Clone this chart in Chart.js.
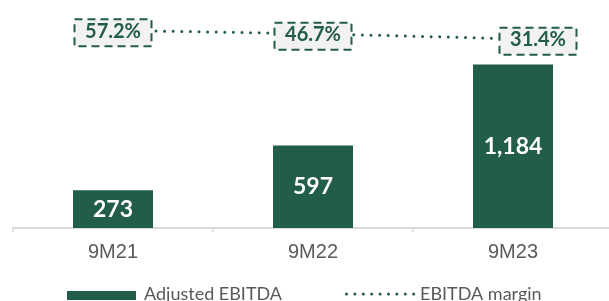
<!DOCTYPE html>
<html>
<head>
<meta charset="utf-8">
<script src="https://cdn.jsdelivr.net/npm/chart.js@4/dist/chart.umd.min.js"></script>
<style>
  html, body { margin: 0; padding: 0; background: #fff; overflow: hidden; width: 609px; height: 301px; }
  #wrap { position: relative; width: 613px; height: 301px; }
</style>
</head>
<body>
<div id="wrap"><canvas id="chart"></canvas></div>
<script>
var periods = ["9M21", "9M22", "9M23"];
var adjustedEbitda = [273, 597, 1184];
var ebitdaMargin = [57.2, 46.7, 31.4];
var seriesNames = ["Adjusted EBITDA", "EBITDA margin"];

var green = "#225c4b";
var grey = "#595959";

var labelsPlugin = {
  id: "valueLabels",
  afterDatasetsDraw: function (chart) {
    var ctx = chart.ctx;
    ctx.save();
    // bar values, centred in the bars
    chart.getDatasetMeta(1).data.forEach(function (bar, i) {
      ctx.fillStyle = "#fff";
      ctx.font = "bold 23px Lato";
      ctx.textAlign = "center";
      ctx.textBaseline = "middle";
      ctx.fillText(adjustedEbitda[i].toLocaleString("en-US"), bar.x, (bar.y + bar.base) / 2);
    });
    // margin labels in dashed boxes
    var shift = [0, 0, 25];
    chart.getDatasetMeta(0).data.forEach(function (pt, i) {
      var cx = pt.x + shift[i];
      var ty = pt.y;
      ctx.setLineDash([8, 5]);
      ctx.lineWidth = 2;
      ctx.strokeStyle = green;
      ctx.fillStyle = "#f2f2f2";
      ctx.fillRect(cx - 38.5, ty - 11, 77, 27);
      ctx.strokeRect(cx - 38.5, ty - 11, 77, 27);
      ctx.setLineDash([]);
      ctx.fillStyle = green;
      ctx.font = "bold 20px Lato";
      ctx.textAlign = "center";
      ctx.textBaseline = "middle";
      ctx.fillText(ebitdaMargin[i].toFixed(1) + "%", cx, ty + 1);
    });
    ctx.restore();
  }
};

// legend drawn by hand under the axis
var legendPlugin = {
  id: "bottomLegend",
  afterDraw: function (chart) {
    var ctx = chart.ctx;
    var y = 294;
    var x = 67;
    ctx.save();
    ctx.font = "18px Lato";
    ctx.textBaseline = "middle";
    ctx.textAlign = "left";
    ctx.fillStyle = green;
    ctx.fillRect(x, y - 3, 69, 9);
    x += 69 + 8;
    ctx.fillStyle = grey;
    ctx.fillText(seriesNames[0], x, y);
    x = 345;
    ctx.fillStyle = green;
    for (var d = 0; d < 9; d++) {
      ctx.beginPath();
      ctx.arc(x + 1.5 + d * 8.4, y, 1.5, 0, Math.PI * 2);
      ctx.fill();
    }
    x += 68 + 7;
    ctx.fillStyle = grey;
    ctx.fillText(seriesNames[1], x, y);
    ctx.restore();
  }
};

new Chart(document.getElementById("chart"), {
  data: {
    labels: periods,
    datasets: [
      {
        type: "line",
        label: seriesNames[1],
        data: ebitdaMargin,
        yAxisID: "y1",
        borderColor: green,
        borderWidth: 3,
        borderDash: [0, 8.6],
        borderCapStyle: "round",
        pointRadius: 0,
        order: 0
      },
      {
        type: "bar",
        label: seriesNames[0],
        data: adjustedEbitda,
        yAxisID: "y",
        backgroundColor: green,
        barPercentage: 0.4,
        categoryPercentage: 1,
        order: 1
      }
    ]
  },
  options: {
    responsive: true,
    maintainAspectRatio: false,
    animation: false,
    layout: { padding: { top: 7, left: 13, right: 0, bottom: 29 } },
    scales: {
      x: {
        offset: true,
        grid: { drawOnChartArea: false, color: "#d9d9d9", lineWidth: 1.5, tickLength: 4 },
        border: { color: "#d9d9d9", width: 2 },
        ticks: { color: grey, font: { family: "Liberation Sans", size: 20 }, padding: 8 }
      },
      y: { display: false, min: 0, max: 1600 },
      y1: { display: false, min: -552, max: 129 }
    },
    plugins: {
      tooltip: { enabled: false },
      legend: { display: false }
    }
  },
  plugins: [labelsPlugin, legendPlugin]
});
</script>
</body>
</html>
